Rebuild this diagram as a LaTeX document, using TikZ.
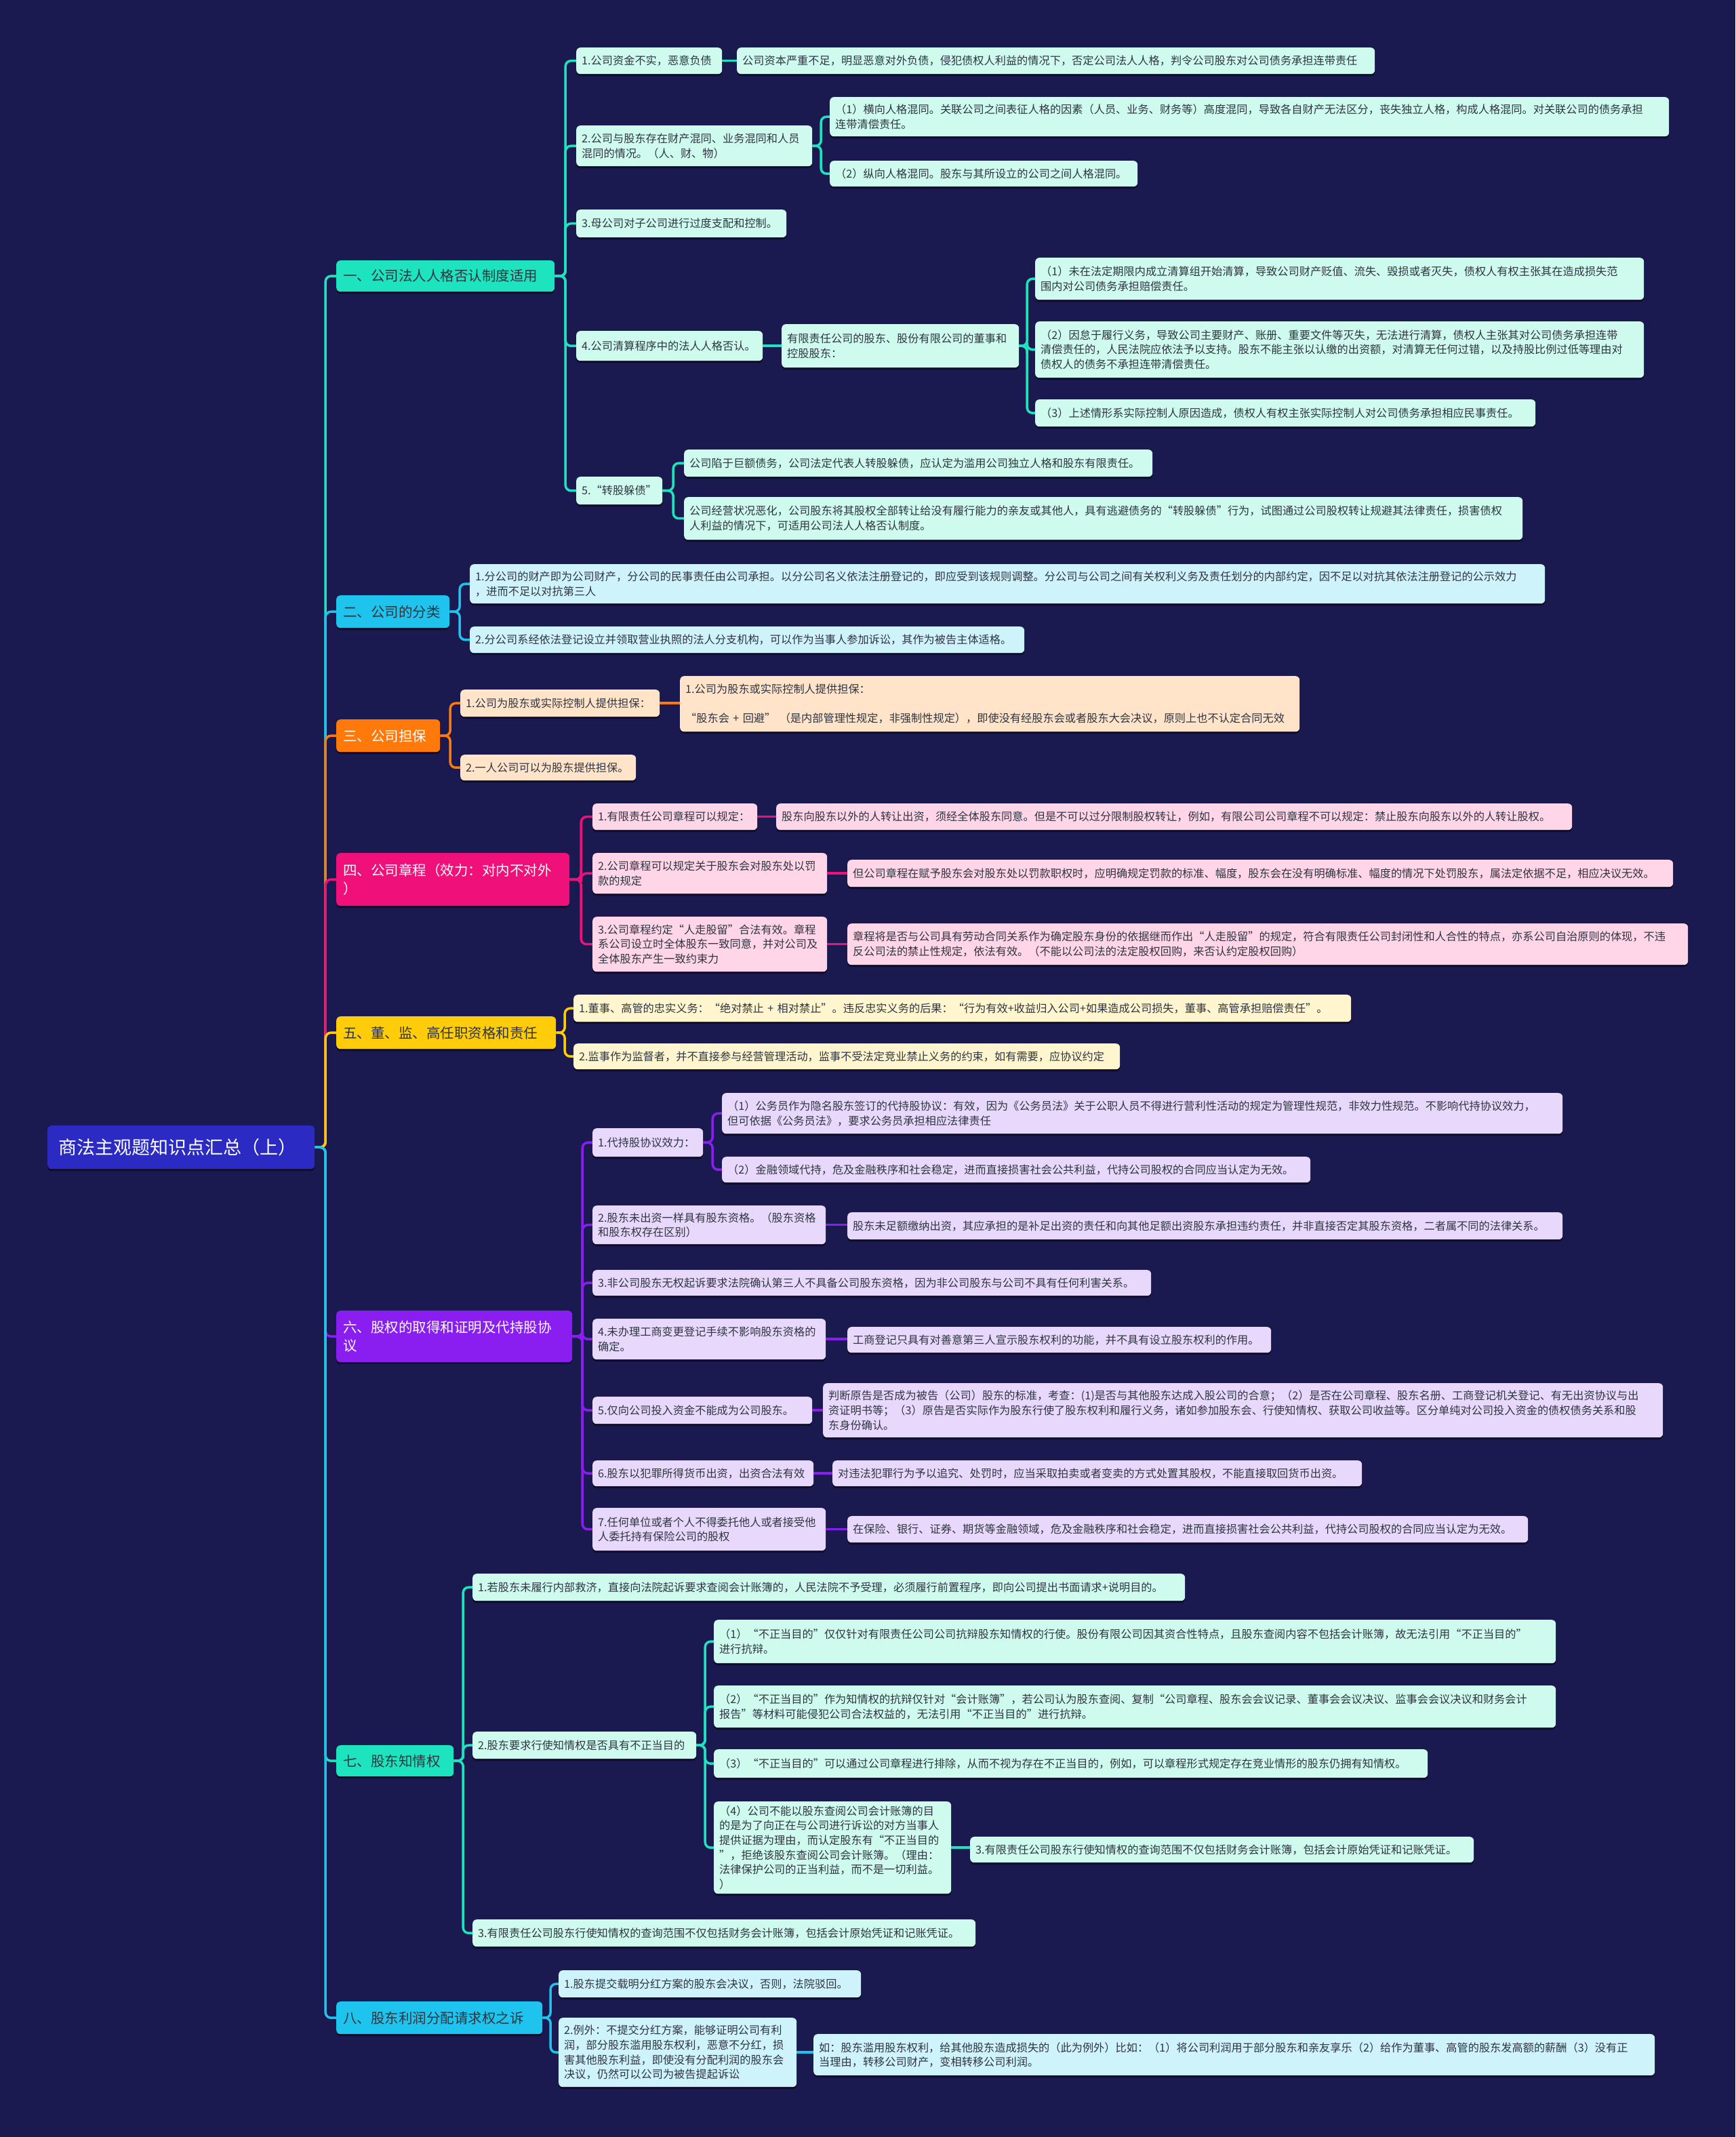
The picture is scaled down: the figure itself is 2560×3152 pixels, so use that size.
\documentclass[tikz,border=0pt]{standalone}
\usepackage{fontspec}
\setmainfont{Noto Sans CJK SC}
\usetikzlibrary{calc,shadows,backgrounds}
\definecolor{bg}{HTML}{1A1950}
\definecolor{rootc}{HTML}{2B2BC4}
\definecolor{cT}{HTML}{1DE3BF}\definecolor{fT}{HTML}{CFFBEF}
\definecolor{cC}{HTML}{1EC4EE}\definecolor{fC}{HTML}{CFF3FB}
\definecolor{cO}{HTML}{FF7A0A}\definecolor{fO}{HTML}{FFE4CA}
\definecolor{cP}{HTML}{F0107A}\definecolor{fP}{HTML}{FFD5E8}
\definecolor{cY}{HTML}{FFCC0A}\definecolor{fY}{HTML}{FFF6CF}
\definecolor{cV}{HTML}{8A1EF0}\definecolor{fV}{HTML}{E8D9FC}
\definecolor{txt}{HTML}{2E3440}
\newcommand\fsS{\fontsize{16.2pt}{21.6pt}\selectfont}
\newcommand\fsH{\fontsize{20.5pt}{27pt}\selectfont}
\newcommand\fsR{\fontsize{27pt}{34pt}\selectfont}
\newcommand\BX[7]{\node[#2, text width=#5pt, minimum height=#6pt] (#1) at (#3,#4) {#7};}
\newcommand\cn[3]{\draw[#1] (#2.east) -| ($(#2.east)!0.5!(#3.west)$) |- (#3.west);}
\newcommand\cs[3]{\draw[#1] (#2.east) -- (#2.east -| #3.west);}
\tikzset{
  bxbase/.style={anchor=north west, rounded corners=6pt, inner xsep=8pt, inner ysep=2pt, align=left, font=\fsS, text=txt,
    drop shadow={shadow xshift=0pt, shadow yshift=-3pt, opacity=0.45, fill=black}},
  hdbase/.style={bxbase, inner xsep=10pt, font=\fsH},
  bT/.style={bxbase, fill=fT}, bC/.style={bxbase, fill=fC}, bO/.style={bxbase, fill=fO},
  bP/.style={bxbase, fill=fP}, bY/.style={bxbase, fill=fY}, bV/.style={bxbase, fill=fV},
  lT/.style={draw=cT, line width=3.5pt, rounded corners=8pt},
  lC/.style={draw=cC, line width=3.5pt, rounded corners=8pt},
  lO/.style={draw=cO, line width=3.5pt, rounded corners=8pt},
  lP/.style={draw=cP, line width=3.5pt, rounded corners=8pt},
  lY/.style={draw=cY, line width=3.5pt, rounded corners=8pt},
  lV/.style={draw=cV, line width=3.5pt, rounded corners=8pt},
}
\begin{document}
\begin{tikzpicture}[x=1pt,y=-1pt]
\useasboundingbox (0,0) rectangle (2560,3152);
% root
\node[bxbase, fill=rootc, text=white, font=\fsR, inner xsep=16pt, text width=362pt, minimum height=64pt] (root) at (70,1660) {商法主观题知识点汇总（上）};
% headers
\BX{H1}{hdbase, fill=cT}{496}{384}{302}{46}{一、公司法人人格否认制度适用}
\BX{H2}{hdbase, fill=cC}{496}{878}{147}{48}{二、公司的分类}
\BX{H3}{hdbase, fill=cO, text=white}{496}{1061}{133}{48}{三、公司担保}
\BX{H4}{hdbase, fill=cP, text=white}{496}{1258}{324}{78}{四、公司章程（效力：对内不对外\\）}
\BX{H5}{hdbase, fill=cY}{496}{1499}{304}{48}{五、董、监、高任职资格和责任}
\BX{H6}{hdbase, fill=cV, text=white}{496}{1933}{328}{76}{六、股权的取得和证明及代持股协\\议}
\BX{H7}{hdbase, fill=cT}{496}{2574}{153}{46}{七、股东知情权}
\BX{H8}{hdbase, fill=cC}{496}{2952}{284}{48}{八、股东利润分配请求权之诉}
% section 1
\BX{a11}{bT}{850}{70}{199}{39}{1.公司资金不实，恶意负债}
\BX{a11c}{bT}{1087}{70}{925}{39}{公司资本严重不足，明显恶意对外负债，侵犯债权人利益的情况下，否定公司法人人格，判令公司股东对公司债务承担连带责任}
\BX{a12}{bT}{850}{185}{332}{60}{2.公司与股东存在财产混同、业务混同和人员\\混同的情况。（人、财、物）}
\BX{a121}{bT}{1224}{143}{1222}{58}{（1）横向人格混同。关联公司之间表征人格的因素（人员、业务、财务等）高度混同，导致各自财产无法区分，丧失独立人格，构成人格混同。对关联公司的债务承担\\连带清偿责任。}
\BX{a122}{bT}{1224}{237}{438}{38}{（2）纵向人格混同。股东与其所设立的公司之间人格混同。}
\BX{a13}{bT}{850}{309}{294}{41}{3.母公司对子公司进行过度支配和控制。}
\BX{a14}{bT}{850}{488}{259}{44}{4.公司清算程序中的法人人格否认。}
\BX{a14c}{bT}{1153}{478}{334}{64}{有限责任公司的股东、股份有限公司的董事和\\控股股东：}
\BX{a141}{bT}{1527}{380}{882}{62}{（1）未在法定期限内成立清算组开始清算，导致公司财产贬值、流失、毁损或者灭失，债权人有权主张其在造成损失范\\围内对公司债务承担赔偿责任。}
\BX{a142}{bT}{1527}{474}{882}{83}{（2）因怠于履行义务，导致公司主要财产、账册、重要文件等灭失，无法进行清算，债权人主张其对公司债务承担连带\\清偿责任的，人民法院应依法予以支持。股东不能主张以认缴的出资额，对清算无任何过错，以及持股比例过低等理由对\\债权人的债务不承担连带清偿责任。}
\BX{a143}{bT}{1527}{589}{722}{40}{（3）上述情形系实际控制人原因造成，债权人有权主张实际控制人对公司债务承担相应民事责任。}
\BX{a15}{bT}{850}{703}{111}{41}{5.“转股躲债”}
\BX{a15a}{bT}{1009}{663}{675}{40}{公司陷于巨额债务，公司法定代表人转股躲债，应认定为滥用公司独立人格和股东有限责任。}
\BX{a15b}{bT}{1009}{733}{1221}{63}{公司经营状况恶化，公司股东将其股权全部转让给没有履行能力的亲友或其他人，具有逃避债务的“转股躲债”行为，试图通过公司股权转让规避其法律责任，损害债权\\人利益的情况下，可适用公司法人人格否认制度。}
% section 2
\BX{b1}{bC}{693}{832}{1570}{58}{1.分公司的财产即为公司财产，分公司的民事责任由公司承担。以分公司名义依法注册登记的，即应受到该规则调整。分公司与公司之间有关权利义务及责任划分的内部约定，因不足以对抗其依法注册登记的公示效力\\，进而不足以对抗第三人}
\BX{b2}{bC}{693}{924}{802}{39}{2.分公司系经依法登记设立并领取营业执照的法人分支机构，可以作为当事人参加诉讼，其作为被告主体适格。}
% section 3
\BX{c1}{bO}{679}{1017}{278}{40}{1.公司为股东或实际控制人提供担保：}
\BX{c1c}{bO}{1003}{997}{898}{82}{1.公司为股东或实际控制人提供担保：\\~\\“股东会 + 回避” （是内部管理性规定，非强制性规定），即使没有经股东会或者股东大会决议，原则上也不认定合同无效}
\BX{c2}{bO}{679}{1113}{243}{38}{2.一人公司可以为股东提供担保。}
% section 4
\BX{d1}{bP}{874}{1185}{227}{39}{1.有限责任公司章程可以规定：}
\BX{d1c}{bP}{1145}{1185}{1158}{39}{股东向股东以外的人转让出资，须经全体股东同意。但是不可以过分限制股权转让，例如，有限公司公司章程不可以规定：禁止股东向股东以外的人转让股权。}
\BX{d2}{bP}{874}{1258}{330}{60}{2.公司章程可以规定关于股东会对股东处以罚\\款的规定}
\BX{d2c}{bP}{1250}{1268}{1202}{40}{但公司章程在赋予股东会对股东处以罚款职权时，应明确规定罚款的标准、幅度，股东会在没有明确标准、幅度的情况下处罚股东，属法定依据不足，相应决议无效。}
\BX{d3}{bP}{874}{1352}{330}{81}{3.公司章程约定“人走股留”合法有效。章程\\系公司设立时全体股东一致同意，并对公司及\\全体股东产生一致约束力}
\BX{d3c}{bP}{1250}{1362}{1224}{61}{章程将是否与公司具有劳动合同关系作为确定股东身份的依据继而作出“人走股留”的规定，符合有限责任公司封闭性和人合性的特点，亦系公司自治原则的体现，不违\\反公司法的禁止性规定，依法有效。（不能以公司法的法定股权回购，来否认约定股权回购）}
% section 5
\BX{e1}{bY}{846}{1467}{1131}{40}{1.董事、高管的忠实义务：“绝对禁止 + 相对禁止”。违反忠实义务的后果：“行为有效+收益归入公司+如果造成公司损失，董事、高管承担赔偿责任”。}
\BX{e2}{bY}{846}{1539}{790}{38}{2.监事作为监督者，并不直接参与经营管理活动，监事不受法定竞业禁止义务的约束，如有需要，应协议约定}
% section 6
\BX{f1}{bV}{874}{1664}{147}{42}{1.代持股协议效力：}
\BX{f11}{bV}{1065}{1612}{1224}{60}{（1）公务员作为隐名股东签订的代持股协议：有效，因为《公务员法》关于公职人员不得进行营利性活动的规定为管理性规范，非效力性规范。不影响代持协议效力，\\但可依据《公务员法》，要求公务员承担相应法律责任}
\BX{f12}{bV}{1065}{1706}{852}{38}{（2）金融领域代持，危及金融秩序和社会稳定，进而直接损害社会公共利益，代持公司股权的合同应当认定为无效。}
\BX{f2}{bV}{874}{1778}{328}{57}{2.股东未出资一样具有股东资格。（股东资格\\和股东权存在区别）}
\BX{f2c}{bV}{1250}{1788}{1039}{40}{股东未足额缴纳出资，其应承担的是补足出资的责任和向其他足额出资股东承担违约责任，并非直接否定其股东资格，二者属不同的法律关系。}
\BX{f3}{bV}{874}{1873}{808}{38}{3.非公司股东无权起诉要求法院确认第三人不具备公司股东资格，因为非公司股东与公司不具有任何利害关系。}
\BX{f4}{bV}{874}{1945}{328}{60}{4.未办理工商变更登记手续不影响股东资格的\\确定。}
\BX{f4c}{bV}{1250}{1957}{609}{38}{工商登记只具有对善意第三人宣示股东权利的功能，并不具有设立股东权利的作用。}
\BX{f5}{bV}{874}{2060}{308}{40}{5.仅向公司投入资金不能成为公司股东。}
\BX{f5c}{bV}{1214}{2040}{1223}{80}{判断原告是否成为被告（公司）股东的标准，考查：(1)是否与其他股东达成入股公司的合意；（2）是否在公司章程、股东名册、工商登记机关登记、有无出资协议与出\\资证明书等；（3）原告是否实际作为股东行使了股东权利和履行义务，诸如参加股东会、行使知情权、获取公司收益等。区分单纯对公司投入资金的债权债务关系和股\\东身份确认。}
\BX{f6}{bV}{874}{2154}{310}{38}{6.股东以犯罪所得货币出资，出资合法有效}
\BX{f6c}{bV}{1228}{2154}{765}{38}{对违法犯罪行为予以追究、处罚时，应当采取拍卖或者变卖的方式处置其股权，不能直接取回货币出资。}
\BX{f7}{bV}{874}{2224}{328}{63}{7.任何单位或者个人不得委托他人或者接受他\\人委托持有保险公司的股权}
\BX{f7c}{bV}{1250}{2236}{988}{39}{在保险、银行、证券、期货等金融领域，危及金融秩序和社会稳定，进而直接损害社会公共利益，代持公司股权的合同应当认定为无效。}
% section 7
\BX{g1}{bT}{697}{2321}{1035}{40}{1.若股东未履行内部救济，直接向法院起诉要求查阅会计账簿的，人民法院不予受理，必须履行前置程序，即向公司提出书面请求+说明目的。}
\BX{g2}{bT}{697}{2554}{314}{40}{2.股东要求行使知情权是否具有不正当目的}
\BX{g21}{bT}{1053}{2389}{1226}{64}{（1）“不正当目的”仅仅针对有限责任公司公司抗辩股东知情权的行使。股份有限公司因其资合性特点，且股东查阅内容不包括会计账簿，故无法引用“不正当目的”\\进行抗辩。}
\BX{g22}{bT}{1053}{2486}{1226}{62}{（2）“不正当目的”作为知情权的抗辩仅针对“会计账簿”，若公司认为股东查阅、复制“公司章程、股东会会议记录、董事会会议决议、监事会会议决议和财务会计\\报告”等材料可能侵犯公司合法权益的，无法引用“不正当目的”进行抗辩。}
\BX{g23}{bT}{1053}{2580}{1037}{42}{（3）“不正当目的”可以通过公司章程进行排除，从而不视为存在不正当目的，例如，可以章程形式规定存在竞业情形的股东仍拥有知情权。}
\BX{g24}{bT}{1053}{2657}{334}{136}{（4）公司不能以股东查阅公司会计账簿的目\\的是为了向正在与公司进行诉讼的对方当事人\\提供证据为理由，而认定股东有“不正当目的\\”，拒绝该股东查阅公司会计账簿。（理由：\\法律保护公司的正当利益，而不是一切利益。\\）}
\BX{g24c}{bT}{1431}{2709}{727}{38}{3.有限责任公司股东行使知情权的查询范围不仅包括财务会计账簿，包括会计原始凭证和记账凭证。}
\BX{g3}{bT}{697}{2831}{726}{40}{3.有限责任公司股东行使知情权的查询范围不仅包括财务会计账簿，包括会计原始凭证和记账凭证。}
% section 8
\BX{h1}{bC}{824}{2906}{430}{40}{1.股东提交载明分红方案的股东会决议，否则，法院驳回。}
\BX{h2}{bC}{824}{2976}{335}{102}{2.例外：不提交分红方案，能够证明公司有利\\润，部分股东滥用股东权利，恶意不分红，损\\害其他股东利益，即使没有分配利润的股东会\\决议，仍然可以公司为被告提起诉讼}
\BX{h2c}{bC}{1200}{3000}{1225}{61}{如：股东滥用股东权利，给其他股东造成损失的（此为例外）比如：（1）将公司利润用于部分股东和亲友享乐（2）给作为董事、高管的股东发高额的薪酬（3）没有正\\当理由，转移公司财产，变相转移公司利润。}
% connectors, behind the boxes
\begin{pgfonlayer}{background}
\fill[bg] (0,0) rectangle (2560,3152);
\cn{lT}{root}{H1}\cn{lC}{root}{H2}\cn{lO}{root}{H3}\cn{lP}{root}{H4}
\cn{lY}{root}{H5}\cn{lV}{root}{H6}\cn{lT}{root}{H7}\cn{lC}{root}{H8}
\cn{lT}{H1}{a11}\cn{lT}{H1}{a12}\cn{lT}{H1}{a13}\cn{lT}{H1}{a14}\cn{lT}{H1}{a15}
\cs{lT}{a11}{a11c}\cn{lT}{a12}{a121}\cn{lT}{a12}{a122}\cs{lT}{a14}{a14c}
\cn{lT}{a14c}{a141}\cn{lT}{a14c}{a142}\cn{lT}{a14c}{a143}
\cn{lT}{a15}{a15a}\cn{lT}{a15}{a15b}
\cn{lC}{H2}{b1}\cn{lC}{H2}{b2}
\cn{lO}{H3}{c1}\cn{lO}{H3}{c2}\cs{lO}{c1}{c1c}
\cn{lP}{H4}{d1}\cn{lP}{H4}{d2}\cn{lP}{H4}{d3}
\cs{lP}{d1}{d1c}\cs{lP}{d2}{d2c}\cs{lP}{d3}{d3c}
\cn{lY}{H5}{e1}\cn{lY}{H5}{e2}
\cn{lV}{H6}{f1}\cn{lV}{H6}{f2}\cn{lV}{H6}{f3}\cn{lV}{H6}{f4}\cn{lV}{H6}{f5}\cn{lV}{H6}{f6}\cn{lV}{H6}{f7}
\cn{lV}{f1}{f11}\cn{lV}{f1}{f12}\cs{lV}{f2}{f2c}\cs{lV}{f4}{f4c}\cs{lV}{f5}{f5c}\cs{lV}{f6}{f6c}\cs{lV}{f7}{f7c}
\cn{lT}{H7}{g1}\cn{lT}{H7}{g2}\cn{lT}{H7}{g3}
\cn{lT}{g2}{g21}\cn{lT}{g2}{g22}\cn{lT}{g2}{g23}\cn{lT}{g2}{g24}\cs{lT}{g24}{g24c}
\cn{lC}{H8}{h1}\cn{lC}{H8}{h2}\cs{lC}{h2}{h2c}
\end{pgfonlayer}
\end{tikzpicture}
\end{document}
